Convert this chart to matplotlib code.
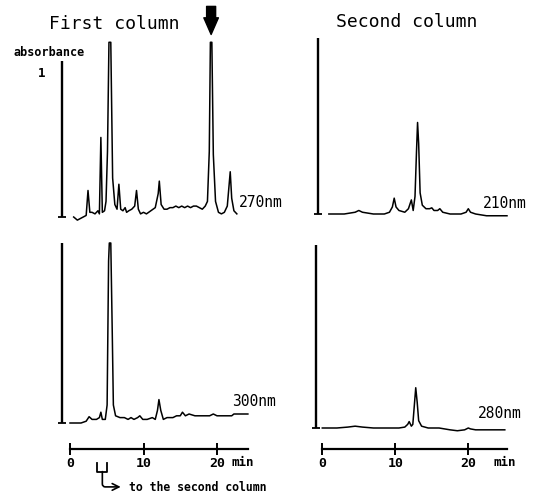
import matplotlib
matplotlib.use('Agg')
import matplotlib.pyplot as plt
import matplotlib.transforms as mtransforms

# Chromatograms: retention time (min) vs absorbance (scale bar = 1)
t_270 = [0.5, 1.0, 1.8, 2.2, 2.45, 2.7, 3.0, 3.4, 3.8, 4.0, 4.2, 4.4, 4.7, 4.9,
         5.1, 5.3, 5.55, 5.8, 6.1, 6.4, 6.65, 6.9, 7.2, 7.5, 7.7, 8.0, 8.4, 8.8,
         9.05, 9.3, 9.6, 10.0, 10.4, 11.0, 11.6, 12.0, 12.15, 12.4, 12.8, 13.2,
         13.6, 14.0, 14.4, 14.8, 15.2, 15.6, 16.0, 16.4, 16.8, 17.2, 17.6, 18.0,
         18.4, 18.7, 18.95, 19.1, 19.3, 19.5, 19.8, 20.2, 20.6, 21.0, 21.4, 21.8,
         22.0, 22.3, 22.7]
a_270 = [0.0, -0.02, 0.0, 0.01, 0.17, 0.03, 0.03, 0.02, 0.04, 0.02, 0.51, 0.03,
         0.04, 0.10, 0.42, 1.12, 1.12, 0.25, 0.08, 0.05, 0.21, 0.05, 0.04, 0.06,
         0.03, 0.04, 0.05, 0.07, 0.17, 0.05, 0.02, 0.03, 0.02, 0.04, 0.06, 0.15,
         0.23, 0.08, 0.05, 0.05, 0.06, 0.06, 0.07, 0.06, 0.07, 0.06, 0.07, 0.06,
         0.07, 0.07, 0.06, 0.05, 0.07, 0.10, 0.42, 1.12, 1.12, 0.40, 0.10, 0.03,
         0.02, 0.03, 0.07, 0.29, 0.12, 0.04, 0.02]

t_300 = [0.0, 1.5, 2.2, 2.6, 3.0, 3.6, 4.0, 4.2, 4.4, 4.8, 5.05, 5.25, 5.35, 5.55,
         5.75, 5.9, 6.2, 6.8, 7.4, 7.9, 8.3, 8.7, 9.2, 9.5, 9.9, 10.5, 11.2, 11.6,
         11.9, 12.1, 12.35, 12.7, 13.2, 14.0, 14.5, 15.0, 15.3, 15.7, 16.2, 17.0,
         18.0, 19.0, 19.5, 20.0, 21.0, 22.0, 22.3, 23.0, 24.2]
a_300 = [0.0, 0.0, 0.01, 0.035, 0.02, 0.02, 0.03, 0.06, 0.02, 0.02, 0.10, 0.9,
         1.0, 1.0, 0.5, 0.1, 0.04, 0.03, 0.03, 0.02, 0.03, 0.02, 0.03, 0.04, 0.02,
         0.02, 0.03, 0.02, 0.07, 0.13, 0.07, 0.02, 0.03, 0.03, 0.04, 0.04, 0.06,
         0.04, 0.05, 0.04, 0.04, 0.04, 0.05, 0.04, 0.04, 0.04, 0.05, 0.05, 0.05]

t_210 = [0.9, 3.0, 4.5, 5.0, 5.5, 7.0, 8.5, 9.2, 9.6, 9.85, 10.1, 10.5, 11.3,
         11.8, 12.2, 12.45, 12.7, 12.9, 13.05, 13.2, 13.4, 13.7, 14.2, 14.7, 15.0,
         15.3, 15.8, 16.1, 16.5, 17.5, 19.0, 19.7, 20.0, 20.3, 21.0, 22.5, 24.0,
         25.3]
a_210 = [0.0, 0.0, 0.01, 0.02, 0.01, 0.0, 0.0, 0.01, 0.04, 0.09, 0.04, 0.02,
         0.01, 0.03, 0.08, 0.02, 0.10, 0.35, 0.52, 0.40, 0.12, 0.05, 0.03, 0.03,
         0.035, 0.02, 0.02, 0.03, 0.01, 0.0, 0.0, 0.01, 0.03, 0.01, 0.0, -0.01,
         -0.01, -0.01]

t_280 = [0.0, 2.0, 3.5, 4.5, 5.5, 7.0, 9.0, 10.5, 11.3, 11.7, 11.9, 12.2, 12.4,
         12.6, 12.8, 13.0, 13.2, 13.6, 14.5, 16.0, 17.5, 18.5, 19.5, 20.0, 20.3,
         21.0, 23.0, 25.0]
a_280 = [0.0, 0.0, 0.005, 0.01, 0.005, 0.0, 0.0, 0.0, 0.005, 0.02, 0.035, 0.01,
         0.02, 0.12, 0.22, 0.14, 0.04, 0.01, 0.0, 0.0, -0.01, -0.015, -0.01, 0.0,
         -0.005, -0.01, -0.01, -0.01]

time_ticks = [0, 10, 20]
time_tick_labels = ['0', '10', '20']
cut_window = [3.7, 5.1]       # fraction sent to the second column
marked_peak = 19.2            # arrowed peak in the first column

W, H = 538, 495
MONO = 'DejaVu Sans Mono'

fig = plt.figure(figsize=(W / 100, H / 100), dpi=100)


def make_axes(left, right, top, bottom, x0, ppm, y0, ppu):
    # place an axes on a pixel rectangle; t=0 at x0 px, a=0 at y0 px
    ax = fig.add_axes([left / W, 1 - bottom / H, (right - left) / W,
                       (bottom - top) / H])
    ax.set_xlim((left - x0) / ppm, (right - x0) / ppm)
    ax.set_ylim((y0 - bottom) / ppu, (y0 - top) / ppu)
    ax.patch.set_visible(False)
    for s in ['top', 'right', 'left', 'bottom']:
        ax.spines[s].set_visible(False)
    ax.set_yticks([])
    ax.set_xticks([])
    return ax


def scale_bar(ax, t):
    ax.plot([t, t], [0, 1], color='k', lw=1.7, solid_capstyle='butt')
    ax.plot([t], [0], marker='_', ms=6, mew=1.3, color='k')


def time_axis(ax, end, min_x):
    ax.spines['bottom'].set_visible(True)
    ax.spines['bottom'].set_bounds(0, end)
    ax.spines['bottom'].set_linewidth(1.6)
    ax.set_xticks(time_ticks)
    ax.set_xticklabels(time_tick_labels, fontfamily=MONO, fontweight='bold',
                       fontsize=9.5)
    ax.tick_params(axis='x', direction='inout', length=8, width=1.4, pad=2)
    tr = mtransforms.blended_transform_factory(ax.transData, ax.transAxes)
    ax.annotate('min', xy=(min_x, 0), xycoords=tr, xytext=(0, -5),
                textcoords='offset points', ha='center', va='top',
                fontfamily=MONO, fontweight='bold', fontsize=9)


trace_kw = dict(color='k', lw=1.1)
label_kw = dict(fontfamily=MONO, fontsize=10.5, va='center', ha='left')

# first column, 270 nm
ax1 = make_axes(0, 270, 0, 228, 70, 7.35, 217, 156)
ax1.plot(t_270, a_270, **trace_kw)
scale_bar(ax1, -1.09)
ax1.text(23.0, 0.096, '270nm', **label_kw)
ax1.annotate('', xy=(marked_peak, 1.17), xytext=(marked_peak, 1.35),
             arrowprops=dict(arrowstyle='simple,head_length=1.2,head_width=1.05,'
                             'tail_width=0.65', fc='k', ec='k',
                             shrinkA=0, shrinkB=0, mutation_scale=10),
             annotation_clip=False)

# first column, 300 nm
ax2 = make_axes(0, 270, 228, 449, 70, 7.35, 423, 180)
ax2.plot(t_300, a_300, **trace_kw)
scale_bar(ax2, -1.09)
ax2.text(22.0, 0.12, '300nm', **label_kw)
time_axis(ax2, 24.2, 23.5)

# cut bracket and arrow to the second column
c0, c1 = cut_window
cm = (c0 + c1) / 2
ax2.plot([c0, c0, c1, c1], [-0.22, -0.27, -0.27, -0.22], color='k', lw=1.3,
         clip_on=False)
ax2.annotate('', xy=(6.9, -0.355), xytext=(cm, -0.27),
             arrowprops=dict(arrowstyle='->',
                             connectionstyle='angle,angleA=90,angleB=0,rad=3',
                             color='k', lw=1.2, shrinkA=0, shrinkB=0,
                             mutation_scale=12),
             annotation_clip=False)
ax2.text(8.0, -0.36, 'to the second column', fontfamily=MONO,
         fontweight='bold', fontsize=8.3, va='center', ha='left', clip_on=False)

# second column, 210 nm
ax3 = make_axes(270, 538, 0, 228, 322.3, 7.3, 214, 176)
ax3.plot(t_210, a_210, **trace_kw)
scale_bar(ax3, -0.63)
ax3.text(22.0, 0.0625, '210nm', **label_kw)

# second column, 280 nm
ax4 = make_axes(270, 538, 228, 449, 322.3, 7.3, 428, 183)
ax4.plot(t_280, a_280, **trace_kw)
scale_bar(ax4, -0.9)
ax4.text(21.3, 0.08, '280nm', **label_kw)
time_axis(ax4, 25.3, 25.0)

# titles and absorbance scale label
fig.text(114 / W, 1 - 24 / H, 'First column', fontfamily=MONO, fontsize=13,
         ha='center', va='center')
fig.text(407 / W, 1 - 22 / H, 'Second column', fontfamily=MONO, fontsize=13,
         ha='center', va='center')
fig.text(49 / W, 1 - 52 / H, 'absorbance', fontfamily=MONO, fontsize=8.5,
         fontweight='bold', ha='center', va='center')
fig.text(42 / W, 1 - 73 / H, '1', fontfamily=MONO, fontsize=9,
         fontweight='bold', ha='center', va='center')

plt.savefig('out.png', dpi=100)
